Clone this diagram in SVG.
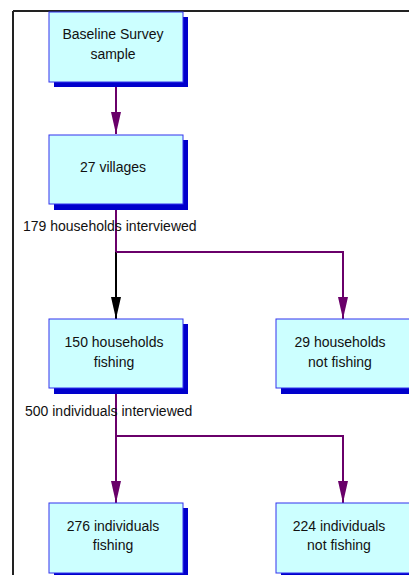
<svg xmlns="http://www.w3.org/2000/svg" width="409" height="575" viewBox="0 0 409 575">
<style>
.box{fill:#ccffff;stroke:#3333ee;stroke-width:1}
.sh{fill:#0000cc}
.t{font-family:"Liberation Sans",Arial,sans-serif;font-size:14px;fill:#111;text-anchor:middle}
.lbl{font-family:"Liberation Sans",Arial,sans-serif;font-size:14px;fill:#111}
.c{fill:none;stroke:#6a006a;stroke-width:2}
</style>
<defs>
<marker id="ap" markerUnits="userSpaceOnUse" markerWidth="22" markerHeight="10" refX="22" refY="5" orient="auto" viewBox="0 0 22 10">
<path d="M0,0 L22,5 L0,10 Z" fill="#6a006a"/>
</marker>
<marker id="ab" markerUnits="userSpaceOnUse" markerWidth="22" markerHeight="10" refX="22" refY="5" orient="auto" viewBox="0 0 22 10">
<path d="M0,0 L22,5 L0,10 Z" fill="#000"/>
</marker>
</defs>
<rect x="0" y="0" width="409" height="575" fill="#fff"/>
<g id="frame">
<line x1="13" y1="11" x2="409" y2="11" stroke="#222" stroke-width="2"/>
<line x1="13" y1="11" x2="13" y2="575" stroke="#222" stroke-width="2"/>
</g>
<g id="connectors">
<line class="c" x1="116" y1="83" x2="116" y2="134" marker-end="url(#ap)"/>
<line class="c" x1="116" y1="205" x2="116" y2="252"/>
<line stroke="#000" stroke-width="2" x1="116" y1="252" x2="116" y2="319" marker-end="url(#ab)"/>
<polyline class="c" points="116,252 343,252 343,319" marker-end="url(#ap)"/>
<line class="c" x1="116" y1="389" x2="116" y2="503" marker-end="url(#ap)"/>
<polyline class="c" points="116,436 343,436 343,503" marker-end="url(#ap)"/>
</g>
<g id="n1">
<rect class="sh" x="54" y="17" width="134" height="70"/>
<rect class="box" x="49" y="12" width="134" height="70"/>
<text class="t" x="113" y="39">Baseline Survey</text>
<text class="t" x="113" y="59">sample</text>
</g>
<g id="n2">
<rect class="sh" x="54" y="140" width="134" height="70"/>
<rect class="box" x="49" y="135" width="134" height="69"/>
<text class="t" x="113" y="172">27 villages</text>
</g>
<text class="lbl" x="23" y="231">179 households interviewed</text>
<g id="n3">
<rect class="sh" x="54" y="324" width="134" height="70"/>
<rect class="box" x="49" y="319" width="134" height="69"/>
<text class="t" x="114" y="347">150 households</text>
<text class="t" x="114" y="367">fishing</text>
</g>
<g id="n4">
<rect class="sh" x="281" y="324" width="134" height="70"/>
<rect class="box" x="276" y="319" width="134" height="69"/>
<text class="t" x="340" y="347">29 households</text>
<text class="t" x="340" y="367">not fishing</text>
</g>
<text class="lbl" x="25" y="416">500 individuals interviewed</text>
<g id="n5">
<rect class="sh" x="54" y="508" width="134" height="70"/>
<rect class="box" x="49" y="503" width="134" height="70"/>
<text class="t" x="113" y="531">276 individuals</text>
<text class="t" x="113" y="550">fishing</text>
</g>
<g id="n6">
<rect class="sh" x="281" y="508" width="134" height="70"/>
<rect class="box" x="276" y="503" width="134" height="70"/>
<text class="t" x="339" y="531">224 individuals</text>
<text class="t" x="339" y="550">not fishing</text>
</g>
</svg>
